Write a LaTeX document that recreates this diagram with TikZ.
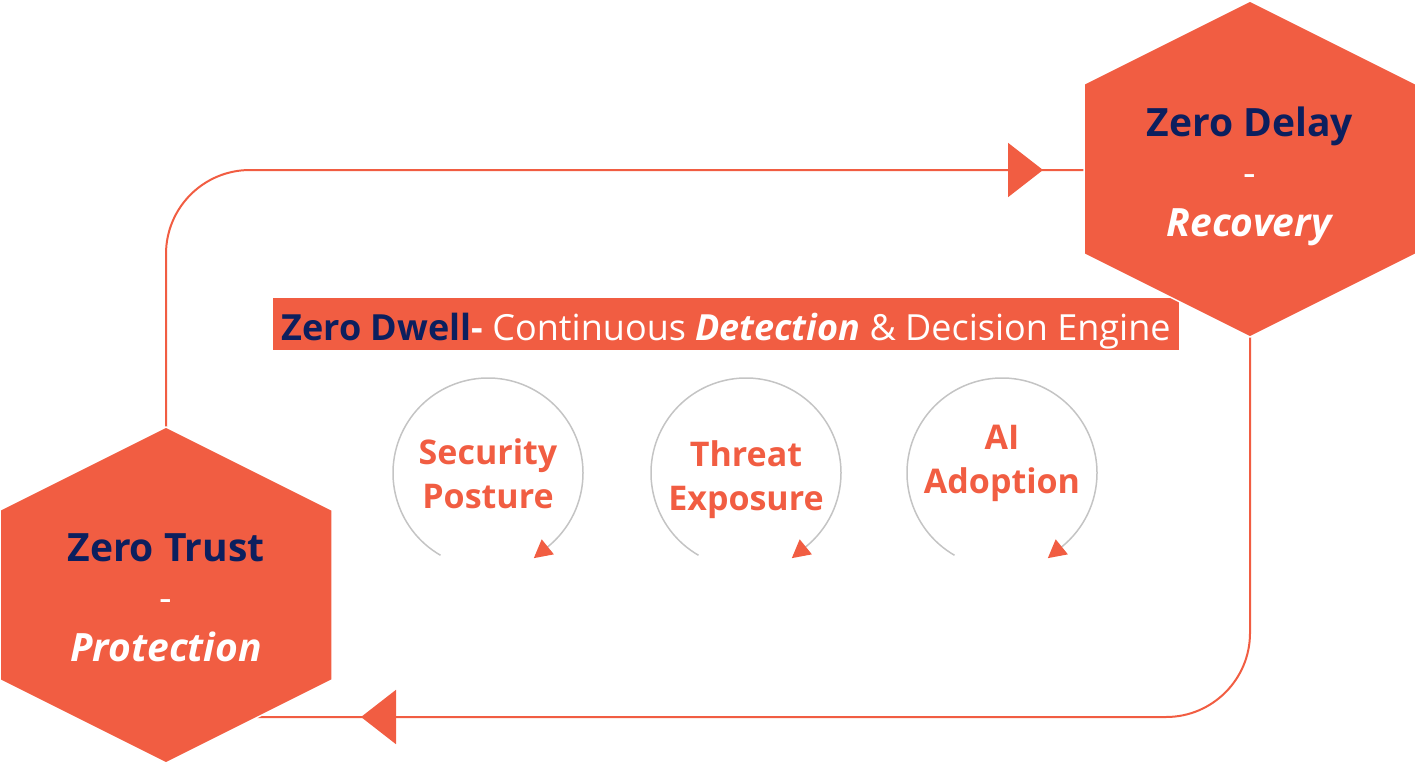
\documentclass[tikz,border=0pt]{standalone}
\usepackage{fontspec}
\setmainfont{Open Sans}
\usetikzlibrary{arrows.meta,decorations.markings}

\definecolor{zorange}{HTML}{F15D42}
\definecolor{znavy}{HTML}{0C1F5E}
\definecolor{zgray}{HTML}{C4C4C4}

\tikzset{
  pics/hexagon/.style={code={
    \fill[zorange, draw=white, line width=1.5pt]
      (0,-168) -- (166,-85) -- (166,85) -- (0,168) -- (-166,85) -- (-166,-85) -- cycle;
  }},
  hexlabel/.style={align=center, text=white, inner sep=0pt,
    font=\fontsize{39}{50}\selectfont\bfseries},
  loopline/.style={draw=zorange, line width=2pt, rounded corners=84},
  looparrow/.style={postaction={decorate}, decoration={markings,
    mark=at position #1 with {\arrow{Triangle[length=35pt,width=54pt]}}}},
  banner/.style={fill=zorange, text=white, inner sep=0pt,
    minimum width=906, minimum height=52, text height=36pt, text depth=4pt,
    font=\fontsize{36}{40}\selectfont},
  cyclelabel/.style={align=center, text=zorange, inner sep=0pt,
    font=\fontsize{34}{44}\selectfont\bfseries},
  cyclearc/.style={draw=zgray, line width=1.5pt, shorten >=-18pt,
    -{Triangle[length=18pt,width=19pt,color=zorange]}},
}

\begin{document}
\begin{tikzpicture}[x=1pt,y=-1pt]
  \useasboundingbox (0,0) rectangle (1415,765);

  % loop between the two hexagons
  \coordinate (trust-top) at (166,428);
  \coordinate (delay-left) at (1084,170);
  \coordinate (delay-bottom) at (1250,337);
  \coordinate (trust-edge) at (257,717);
  \draw[loopline, looparrow=-41pt, zorange] (trust-top) |- (delay-left);
  \draw[loopline, looparrow=-104pt, zorange] (delay-bottom) |- (trust-edge);

  \node[banner] (dwell) at (726,324)
    {\textcolor{znavy}{\bfseries Zero Dwell}{\bfseries -} Continuous \textbf{\textit{Detection}} \& Decision Engine};

  \pic at (1250,169) {hexagon};
  \pic at (166,595) {hexagon};

  \node[hexlabel] (delay) at (1250,176)
    {\textcolor{znavy}{Zero Delay}\\{\mdseries -}\\\textit{Recovery}};
  \node[hexlabel] (trust) at (166,598)
    {\textcolor{znavy}{Zero Trust}\\{\mdseries -}\\\textit{Protection}};

  % three cycles of the engine
  \node[cyclelabel] (posture) at (488,474) {Security\\Posture};
  \node[cyclelabel] (exposure) at (746,480) {Threat\\Exposure};
  \node[cyclelabel] (adoption) at (1002,463) {AI\\Adoption};

  \draw[cyclearc] (488,473) ++(120:95) arc[start angle=120, end angle=411, radius=95];
  \draw[cyclearc] (746,473) ++(120:95) arc[start angle=120, end angle=411, radius=95];
  \draw[cyclearc] (1002,473) ++(120:95) arc[start angle=120, end angle=411, radius=95];
\end{tikzpicture}
\end{document}
